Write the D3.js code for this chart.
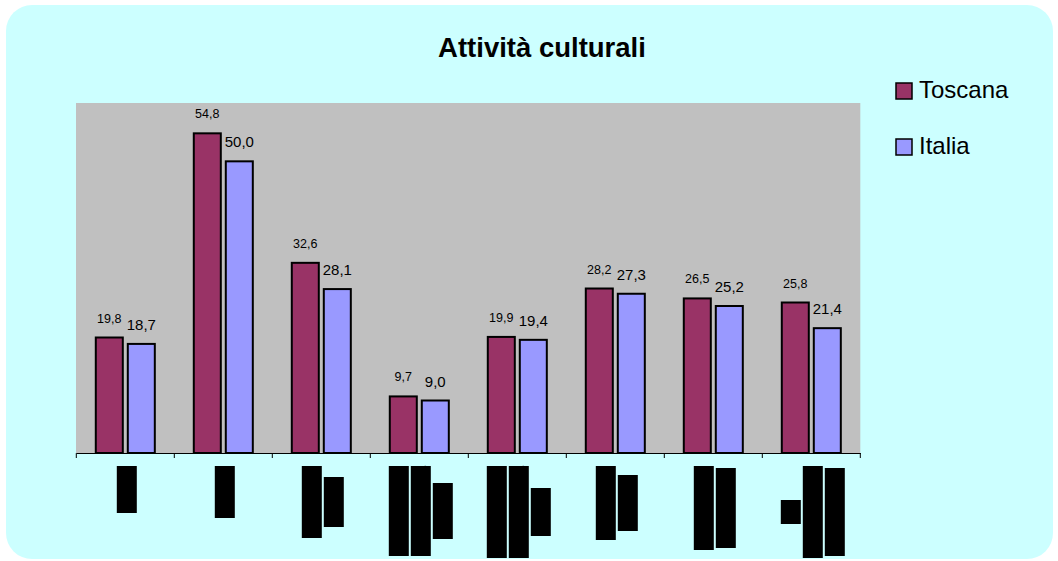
<!DOCTYPE html>
<html>
<head>
<meta charset="utf-8">
<script src="https://cdn.jsdelivr.net/npm/d3@7"></script>
<style>
  body { margin: 0; background: #fff; }
  text { font-family: Arial, "Liberation Sans", sans-serif; }
</style>
</head>
<body>
<div id="chart"></div>
<script>
// dati
const categories = ["Teatro", "Cinema", "Musei, mostre", "Concerti di musica classica",
    "Altri concerti di musica", "Spettacoli sportivi", "Discoteche, balere", "Siti archeologici, monumenti"];
const catLines = [["Teatro"], ["Cinema"], ["Musei,", "mostre"], ["Concerti di", "musica", "classica"],
    ["Altri concerti", "di musica", "leggera"], ["Spettacoli", "sportivi"], ["Discoteche,", "balere"],
    ["Siti", "archeologici,", "monumenti"]];
const series = ["Toscana", "Italia"];
const toscana = [19.8, 54.8, 32.6, 9.7, 19.9, 28.2, 26.5, 25.8];
const italia = [18.7, 50.0, 28.1, 9.0, 19.4, 27.3, 25.2, 21.4];

// lunghezza (px) delle righe delle etichette, come nel disegno
const lineLen = [[47], [52], [72, 50], [90, 90, 56], [92, 92, 48], [74, 56], [84, 80], [24, 92, 88]];
const colors = { Toscana: "#993366", Italia: "#9999FF" };

const WIDTH = 1058, HEIGHT = 561;
const plot = { left: 76.3, right: 860.3, top: 103, bottom: 453 };

var svg = d3.select("#chart").append("svg")
    .attr("width", WIDTH)
    .attr("height", HEIGHT);

// sfondo
svg.append("rect")
    .attr("x", 6).attr("y", 5)
    .attr("width", 1047).attr("height", 554)
    .attr("rx", 26).attr("ry", 26)
    .attr("fill", "#CCFFFF");

svg.append("text")
    .attr("x", 542).attr("y", 57)
    .attr("text-anchor", "middle")
    .attr("font-size", 27.5).attr("font-weight", "bold")
    .text("Attività culturali");

var x = d3.scaleBand().domain(categories).range([plot.left, plot.right]);
var x1 = d3.scaleBand().domain(series).range([0, x.bandwidth()])
    .paddingInner(0.156).paddingOuter(0.609);
var y = d3.scaleLinear().domain([0, 60]).range([plot.bottom, plot.top]);
var fmt = v => d3.format(".1f")(v).replace(".", ",");

svg.append("rect")
    .attr("x", plot.left - 0.3).attr("y", plot.top)
    .attr("width", plot.right - plot.left + 0.3).attr("height", plot.bottom - plot.top)
    .attr("fill", "#C0C0C0");

var data = categories.map((c, i) => ({ cat: c, Toscana: toscana[i], Italia: italia[i] }));

var groups = svg.append("g").selectAll("g")
    .data(data)
    .enter().append("g")
    .attr("transform", d => "translate(" + x(d.cat) + ",0)");

groups.selectAll("rect")
    .data(d => series.map(s => ({ s: s, v: d[s] })))
    .enter().append("rect")
    .attr("x", d => x1(d.s))
    .attr("y", d => y(d.v))
    .attr("width", x1.bandwidth())
    .attr("height", d => y(0) - y(d.v))
    .attr("fill", d => colors[d.s])
    .attr("stroke", "#000")
    .attr("stroke-width", 2);

groups.selectAll("text.val")
    .data(d => series.map(s => ({ s: s, v: d[s] })))
    .enter().append("text")
    .attr("class", "val")
    .attr("x", d => x1(d.s) + x1.bandwidth() / 2)
    .attr("y", d => y(d.v) - (d.s == "Toscana" ? 15 : 14))
    .attr("text-anchor", "middle")
    .attr("font-size", d => d.s == "Toscana" ? 12.5 : 15)
    .attr("fill", "#000")
    .text(d => fmt(d.v));

// asse x
var xAxis = d3.axisBottom(x).tickSize(0).tickFormat("");
svg.append("g")
    .attr("transform", "translate(0," + plot.bottom + ")")
    .call(xAxis)
    .call(g => g.select(".domain").attr("stroke", "#000").attr("stroke-width", 1.2));
svg.append("g").selectAll("line")
    .data(categories.concat(["end"]))
    .enter().append("line")
    .attr("x1", (d, i) => plot.left + i * x.step())
    .attr("x2", (d, i) => plot.left + i * x.step())
    .attr("y1", plot.bottom).attr("y2", plot.bottom + 5)
    .attr("stroke", "#000");

// etichette categorie (testo ruotato, reso come blocchi neri)
var labG = svg.append("g").selectAll("g")
    .data(categories)
    .enter().append("g")
    .attr("transform", (d, i) => {
        let n = catLines[i].length;
        let cx = x(d) + x.bandwidth() / 2 + 1.5;
        return "translate(" + (cx - (n * 22 - 2) / 2) + ",466)";
    });
labG.each(function(d, i) {
    let g = d3.select(this);
    let maxL = d3.max(lineLen[i]);
    catLines[i].forEach((line, j) => {
        let L = lineLen[i][j];
        let top = (maxL - L) / 2;
        g.append("rect")
            .attr("x", j * 22).attr("y", top)
            .attr("width", 20).attr("height", L)
            .attr("fill", "#000");
        g.append("text")
            .attr("transform", "translate(" + (j * 22 + 15) + "," + (top + L) + ") rotate(-90)")
            .attr("font-size", 15).attr("font-weight", "bold")
            .attr("textLength", L).attr("lengthAdjust", "spacingAndGlyphs")
            .attr("fill", "#000")
            .text(line);
    });
});

// legenda
var leg = svg.append("g").selectAll("g")
    .data(series)
    .enter().append("g")
    .attr("transform", (d, i) => "translate(896," + (83 + i * 56) + ")");
leg.append("rect")
    .attr("width", 16).attr("height", 16)
    .attr("fill", d => colors[d])
    .attr("stroke", "#000").attr("stroke-width", 1.5);
leg.append("text")
    .attr("x", 23).attr("y", 15)
    .attr("font-size", 24)
    .text(d => d);
</script>
</body>
</html>
